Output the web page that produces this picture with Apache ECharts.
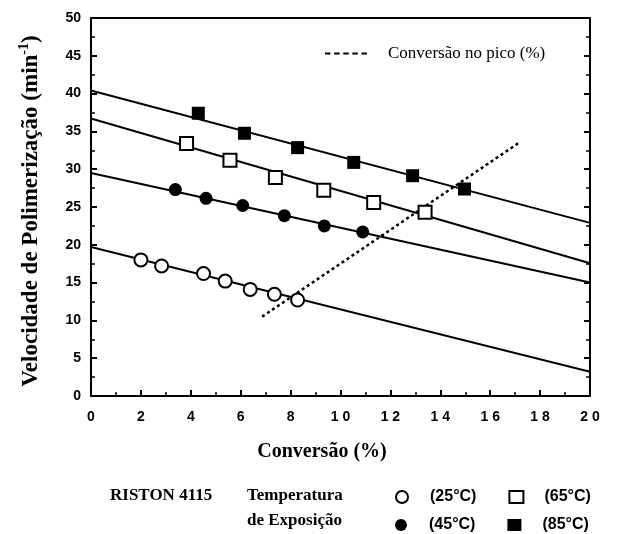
<!DOCTYPE html>
<html><head><meta charset="utf-8">
<script src="https://cdn.jsdelivr.net/npm/echarts@6/dist/echarts.min.js"></script>
<style>html,body{margin:0;padding:0;background:#fff}#c{width:620px;height:534px}</style>
</head><body><div id="c"></div>
<script>
// Data (Conversão %, Velocidade min^-1)
const t25 = [[2.0,18.0],[2.83,17.2],[4.51,16.2],[5.38,15.2],[6.38,14.1],[7.35,13.45],[8.28,12.7]];
const t45 = [[3.38,27.3],[4.61,26.15],[6.08,25.2],[7.75,23.85],[9.35,22.5],[10.89,21.7]];
const t65 = [[3.83,33.4],[5.57,31.2],[7.39,28.9],[9.33,27.2],[11.33,25.6],[13.39,24.3]];
const t85 = [[4.30,37.4],[6.15,34.75],[8.28,32.85],[10.53,30.9],[12.89,29.14],[14.97,27.38]];
const fit25 = [[0,19.7],[20,3.2]];
const fit45 = [[0,29.5],[20,15.0]];
const fit65 = [[0,36.7],[20,17.55]];
const fit85 = [[0,40.4],[20,22.9]];
const peakLine = [[6.86,10.5],[17.2,33.6]];
const seriesNames = ['(25°C)','(65°C)','(45°C)','(85°C)'];
const peakName = 'Conversão no pico (%)';
const xTitle = 'Conversão (%)';
const yTitle = '{m|Velocidade de Polimerização (min}{s|-1}{m|)}';

const chart = echarts.init(document.getElementById('c'), null, {renderer:'canvas'});
const serif = 'Liberation Serif';
const sans = 'Liberation Sans';
function axisStyle(ticks){
  return {
    axisLine:{show:true, onZero:false, lineStyle:{color:'#000', width:2}},
    axisTick:{show:ticks, inside:true, length:6, lineStyle:{color:'#000', width:2}},
    minorTick:{show:ticks, splitNumber:2, length:4, lineStyle:{color:'#000', width:1.5}},
    splitLine:{show:false}
  };
}
function fitSeries(d){
  return {type:'line', data:d, symbol:'none', silent:true,
    lineStyle:{color:'#000', width:2}, z:2};
}
function pts(name, d, symbol, filled){
  return {type:'scatter', name:name, data:d, symbol:symbol, symbolSize:13, z:5,
    itemStyle:{color: filled ? '#000' : '#fff', borderColor:'#000', borderWidth: filled?0:2, opacity:1}};
}
const legText = {fontFamily:sans, fontWeight:'bold', fontSize:16, color:'#000', padding:[0,0,0,16]};
chart.setOption({
  animation:false,
  backgroundColor:'#fff',
  grid:{left:91, right:30, top:18, bottom:138},
  xAxis:[
    Object.assign({type:'value', min:0, max:20, interval:2, position:'bottom',
      axisLabel:{color:'#000', fontFamily:sans, fontWeight:'bold', fontSize:14, margin:14,
        formatter: v => String(v).split('').join(' ')}}, axisStyle(true)),
    Object.assign({type:'value', min:0, max:20, interval:2, position:'top',
      axisLabel:{show:false}}, axisStyle(false))
  ],
  yAxis:[
    Object.assign({type:'value', min:0, max:50, interval:5, position:'left',
      axisLabel:{color:'#000', fontFamily:sans, fontWeight:'bold', fontSize:14, margin:10}}, axisStyle(true)),
    Object.assign({type:'value', min:0, max:50, interval:5, position:'right',
      axisLabel:{show:false}}, axisStyle(true))
  ],
  legend:[
    {data:[{name:peakName, icon:'path://M0,0H3V1H0Z M5,0H8V1H5Z M10,0H13V1H10Z M15,0H18V1H15Z M20,0H23V1H20Z'}],
      left:320, top:40, itemWidth:42, itemHeight:3, itemGap:10,
      textStyle:{fontFamily:serif, fontSize:17, color:'#000', padding:[0,0,0,16]},
      itemStyle:{color:'#000', borderWidth:0}, selectedMode:false},
    {data:[seriesNames[0], seriesNames[1]], left:390, top:484, itemWidth:14, itemHeight:12, itemGap:32,
      textStyle:legText, selectedMode:false},
    {data:[seriesNames[2], seriesNames[3]], left:390, top:512, itemWidth:14, itemHeight:12, itemGap:32,
      textStyle:legText, selectedMode:false}
  ],
  graphic:[
    {type:'text', x:30, y:211, rotation:Math.PI/2,
      style:{text:yTitle, align:'center', verticalAlign:'middle',
        rich:{m:{font:'bold 23px "Liberation Serif"', fill:'#000', lineHeight:26, verticalAlign:'bottom'},
              s:{font:'bold 14px "Liberation Serif"', fill:'#000', lineHeight:26, verticalAlign:'top'}}}},
    {type:'text', x:322, y:452, style:{text:xTitle, font:'bold 20px "Liberation Serif"', fill:'#000', align:'center', verticalAlign:'middle'}},
    {type:'text', left:110, top:483, style:{text:'RISTON 4115', font:'bold 17px "Liberation Serif"', fill:'#000', lineHeight:25}},
    {type:'text', left:247, top:483, style:{text:'Temperatura\nde Exposição', font:'bold 17px "Liberation Serif"', fill:'#000', lineHeight:25}}
  ],
  series:[
    fitSeries(fit25), fitSeries(fit45), fitSeries(fit65), fitSeries(fit85),
    {type:'line', name:peakName, data:peakLine, symbol:'none',
      lineStyle:{color:'#000', width:2.5, type:[3,3]}, z:3},
    pts(seriesNames[0], t25, 'circle', false),
    pts(seriesNames[2], t45, 'circle', true),
    pts(seriesNames[1], t65, 'rect', false),
    pts(seriesNames[3], t85, 'rect', true)
  ]
});
</script></body></html>
